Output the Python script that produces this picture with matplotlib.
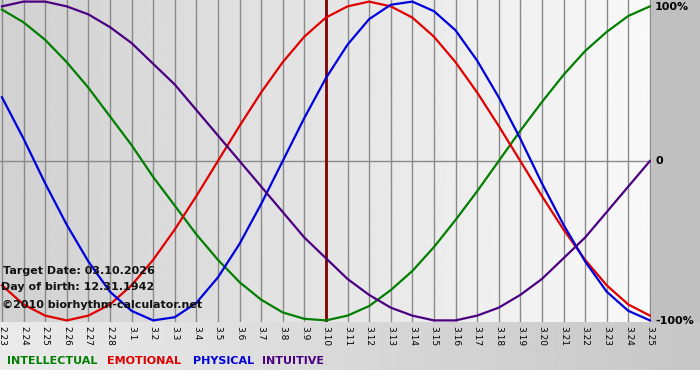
import numpy as np
import matplotlib
matplotlib.use('Agg')
import matplotlib.pyplot as plt

# dates shown on the x axis (2.23 .. 3.25)
days = ['2.23', '2.24', '2.25', '2.26', '2.27', '2.28'] + ['3.%d' % d for d in range(1, 26)]

# cycle values, one per day (-1 .. 1)
physical = [0.40, 0.14, -0.14, -0.40, -0.63, -0.82, -0.94, -1.00, -0.98, -0.89, -0.73, -0.52, -0.27,
            0.00, 0.27, 0.52, 0.73, 0.89, 0.98, 1.00, 0.94, 0.82, 0.63, 0.40, 0.14, -0.14, -0.40,
            -0.63, -0.82, -0.94, -1.00]
emotional = [-0.78, -0.90, -0.97, -1.00, -0.97, -0.90, -0.78, -0.62, -0.43, -0.22, 0.00, 0.22, 0.43,
             0.62, 0.78, 0.90, 0.97, 1.00, 0.97, 0.90, 0.78, 0.62, 0.43, 0.22, 0.00, -0.22, -0.43,
             -0.62, -0.78, -0.90, -0.97]
intellectual = [0.95, 0.87, 0.76, 0.62, 0.46, 0.28, 0.10, -0.10, -0.28, -0.46, -0.62, -0.76, -0.87,
                -0.95, -0.99, -1.00, -0.97, -0.91, -0.81, -0.69, -0.54, -0.37, -0.19, 0.00, 0.19,
                0.37, 0.54, 0.69, 0.81, 0.91, 0.97]
intuitive = [0.97, 1.00, 1.00, 0.97, 0.92, 0.84, 0.74, 0.61, 0.48, 0.32, 0.16, 0.00, -0.16, -0.32,
             -0.48, -0.61, -0.74, -0.84, -0.92, -0.97, -1.00, -1.00, -0.97, -0.92, -0.84, -0.74,
             -0.61, -0.48, -0.32, -0.16, 0.00]

target_idx = days.index('3.10')

W, H = 700, 380
fig = plt.figure(figsize=(W / 100, H / 100), dpi=100)
fig.patch.set_facecolor('white')

# grey band under the plot (light on the left, darker on the right)
band = fig.add_axes([0, 10 / H, 1, 48 / H])
band.imshow(np.linspace(0.92, 0.78, 256).reshape(1, -1), cmap='gray', vmin=0, vmax=1,
            aspect='auto', extent=[0, 1, 0, 1])
band.set_axis_off()

# grey strip right of the plot
strip = fig.add_axes([651 / W, 58 / H, 49 / W, 322 / H])
strip.set_facecolor('#c0c0c0')
strip.set_xticks([])
strip.set_yticks([])
for s in strip.spines.values():
    s.set_visible(False)

ax = fig.add_axes([0, 58 / H, 651 / W, 322 / H])
x = np.arange(len(days))
xl = (-0.09, 30.05)
yl = (-1.01, 1.01)
ax.imshow(np.linspace(0.82, 0.975, 256).reshape(1, -1), cmap='gray', vmin=0, vmax=1,
          aspect='auto', extent=[xl[0], xl[1], yl[0], yl[1]], zorder=0)

for xi in x:
    ax.axvline(xi, color='#8a8a8a', lw=1, zorder=1)
ax.axhline(0, color='#8a8a8a', lw=1, zorder=1)
ax.axvline(target_idx, color='#800000', lw=2, zorder=1)

ax.plot(x, intellectual, color='#007f00', lw=1.6, zorder=3)
ax.plot(x, emotional, color='#e00000', lw=1.6, zorder=3)
ax.plot(x, physical, color='#0000dd', lw=1.6, zorder=3)
ax.plot(x, intuitive, color='#4b0082', lw=1.6, zorder=3)

ax.set_xlim(xl)
ax.set_ylim(yl)
ax.set_xticks(x)
ax.set_xticklabels(days, rotation=-90, fontsize=6.5, va='top', ha='center')
ax.tick_params(axis='x', length=0, pad=3)
ax.set_yticks([])
for s in ax.spines.values():
    s.set_visible(False)

txt = dict(fontsize=8, fontweight='bold', color='#111111', va='center', zorder=5)
ax.text(0.05, -0.69, 'Target Date: 03.10.2026', **txt)
ax.text(-0.05, -0.79, 'Day of birth: 12.31.1942', **txt)
ax.text(0.0, -0.905, '\u00a92010 biorhythm-calculator.net', **txt)

# right side scale labels
fig.text(655 / W, 1 - 7 / H, '100%', fontsize=8, fontweight='bold', va='center')
fig.text(655 / W, 1 - 161 / H, '0', fontsize=8, fontweight='bold', va='center')
fig.text(655 / W, 1 - 321 / H, '-100%', fontsize=8, fontweight='bold', va='center')

# coloured legend row
legend = [('INTELLECTUAL', '#007f00', 7), ('EMOTIONAL', '#e00000', 107),
          ('PHYSICAL', '#0000dd', 193), ('INTUITIVE', '#4b0082', 262)]
for name, c, px in legend:
    fig.text(px / W, 1 - 361 / H, name, color=c, fontsize=8, fontweight='bold', va='center')

fig.savefig('out.png', dpi=100)
